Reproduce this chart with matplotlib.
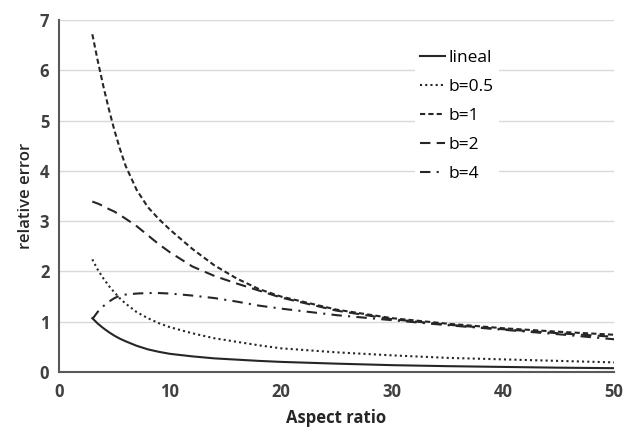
import matplotlib.pyplot as plt

# aspect ratio samples
aspect = [3, 3.5, 4, 4.5, 5, 5.5, 6, 7, 8, 9, 10, 12, 14, 16, 18, 20, 25, 30, 35, 40, 45, 50]

err_lineal = [1.07, 0.96, 0.87, 0.79, 0.72, 0.66, 0.61, 0.52, 0.45, 0.40, 0.36, 0.31,
              0.27, 0.245, 0.22, 0.20, 0.165, 0.135, 0.115, 0.10, 0.085, 0.075]
err_b05 = [2.24, 2.03, 1.86, 1.71, 1.58, 1.46, 1.36, 1.19, 1.07, 0.97, 0.89, 0.77,
           0.67, 0.60, 0.53, 0.47, 0.39, 0.33, 0.28, 0.25, 0.22, 0.19]
err_b1 = [6.72, 6.18, 5.68, 5.22, 4.80, 4.43, 4.10, 3.62, 3.28, 3.04, 2.83, 2.45,
          2.12, 1.86, 1.65, 1.50, 1.24, 1.07, 0.96, 0.87, 0.80, 0.74]
err_b2 = [3.39, 3.35, 3.30, 3.24, 3.19, 3.12, 3.05, 2.90, 2.72, 2.54, 2.38, 2.10,
          1.91, 1.76, 1.62, 1.48, 1.22, 1.05, 0.94, 0.85, 0.77, 0.70]
err_b4 = [1.05, 1.20, 1.31, 1.40, 1.47, 1.52, 1.54, 1.56, 1.57, 1.57, 1.56, 1.52,
          1.47, 1.40, 1.32, 1.26, 1.13, 1.03, 0.93, 0.84, 0.75, 0.65]

labels = ["lineal", "b=0.5", "b=1", "b=2", "b=4"]

plt.rcParams['font.family'] = ['Open Sans', 'DejaVu Sans']

fig = plt.figure(figsize=(6.38, 4.29), dpi=100)
ax = fig.add_axes([0.0925, 0.133, 0.87, 0.82])

col = '#262626'
lw = 1.5
ax.plot(aspect, err_lineal, color=col, lw=lw, ls='-', label=labels[0])
ax.plot(aspect, err_b05, color=col, lw=lw, ls=(0, (1, 1.5)), label=labels[1])
ax.plot(aspect, err_b1, color=col, lw=lw, ls=(0, (2.5, 1.5)), label=labels[2])
ax.plot(aspect, err_b2, color=col, lw=lw, ls=(0, (5, 3)), label=labels[3])
ax.plot(aspect, err_b4, color=col, lw=lw, ls=(0, (5, 3, 1, 3)), label=labels[4])

ax.set_xlim(0, 50)
ax.set_ylim(0, 7)
ax.set_xticks([0, 10, 20, 30, 40, 50])
ax.set_yticks(range(8))
ax.grid(axis='y', color='#d9d9d9', lw=1)
ax.set_axisbelow(True)
ax.tick_params(axis='x', length=0, labelsize=12, labelcolor='#404040', pad=8)
ax.tick_params(axis='y', length=0, labelsize=12, labelcolor='#404040', pad=7)
for t in ax.get_xticklabels() + ax.get_yticklabels():
    t.set_fontweight('bold')

for s in ['top', 'right']:
    ax.spines[s].set_visible(False)
for s in ['left', 'bottom']:
    ax.spines[s].set_color('#595959')
    ax.spines[s].set_linewidth(1.5)

ax.set_xlabel('Aspect ratio', fontsize=12, fontweight='bold', color='#262626', labelpad=6)
ax.set_ylabel('relative error', fontsize=12, fontweight='semibold', color='#262626', labelpad=4)

leg = ax.legend(loc='upper left', bbox_to_anchor=(0.625, 0.956), frameon=True,
                fontsize=12.5, handlelength=1.45, handletextpad=0.2,
                labelspacing=0.75, borderpad=0.3)
leg.get_frame().set_edgecolor('none')
leg.get_frame().set_facecolor('white')
leg.get_frame().set_alpha(1)

fig.savefig('out.png', dpi=100)
